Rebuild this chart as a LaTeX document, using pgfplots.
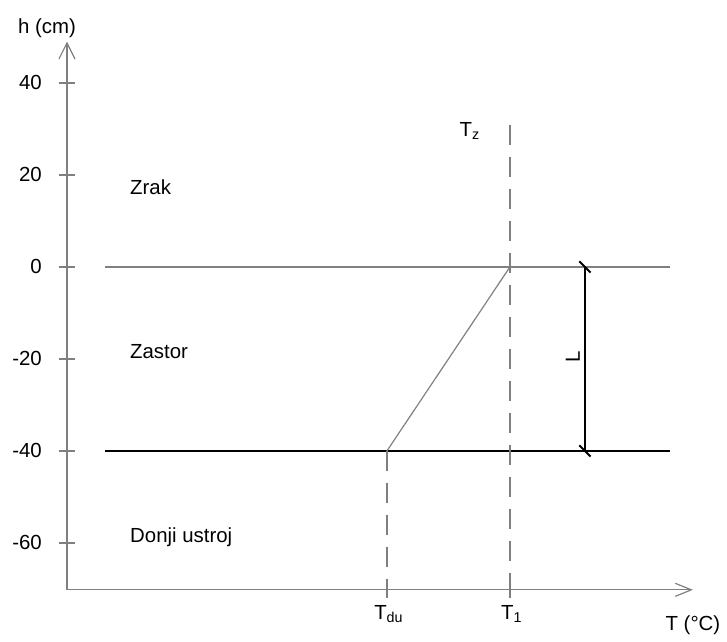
\documentclass[border=0pt]{standalone}
\usepackage{pgfplots}
\pgfplotsset{compat=1.18}
\usepackage{fontspec}
\setmainfont{Liberation Sans}
\usetikzlibrary{arrows.meta}

\definecolor{lgray}{HTML}{808080}

\begin{document}
\fontsize{10.2}{12}\selectfont
\begin{tikzpicture}
\begin{axis}[
  x=0.5pt, y=2.3pt,
  xmin=0, xmax=626,
  ymin=-70.2, ymax=49,
  axis lines=left,
  axis line style={lgray, line width=0.6pt},
  x axis line style={-{Straight Barb[length=8pt,width=6.5pt,line width=0.6pt]}},
  y axis line style={-{Straight Barb[length=8pt,width=8pt,line width=0.6pt]}},
  clip=false,
  tick align=center,
  major tick length=8pt,
  tick style={lgray, line width=0.6pt},
  ytick={-60,-40,-20,0,20,40},
  yticklabels={-60,-40,-20,0,20,40},
  xtick={320,443},
  xticklabels={T\textsubscript{du},T\textsubscript{1}},
  yticklabel style={anchor=east, xshift=-5pt, font=\fontsize{10.2}{12}\selectfont},
  xticklabel style={anchor=north, xshift=1pt, yshift=0pt, font=\fontsize{10.2}{12}\selectfont},
]
% layer boundaries
\addplot[lgray, line width=0.6pt] coordinates {(38,0) (603,0)};
\addplot[black, line width=1pt] coordinates {(38,-40) (603,-40)};
% temperature profile through the cover layer
\addplot[lgray, line width=0.6pt] coordinates {(320,-40) (443,0)};
% reference temperatures
\addplot[lgray, line width=0.6pt, dash pattern=on 10pt off 6pt] coordinates {(443,30.9) (443,-70.2)};
\addplot[lgray, line width=0.6pt, dash pattern=on 10pt off 6pt] coordinates {(320,-40) (320,-70.2)};
% layer thickness L
\addplot[black, line width=1pt, mark=|, mark size=4pt,
  mark options={rotate=45, line width=1pt}] coordinates {(518,0) (518,-40)};

\node[rotate=90] at (axis cs:506,-19.6) {L};
\node[anchor=west] at (axis cs:56,17.4) {Zrak};
\node[anchor=west] at (axis cs:56,-18.5) {Zastor};
\node[anchor=west] at (axis cs:56,-58.7) {Donji ustroj};
\node at (axis cs:403,29.6) {T\textsubscript{z}};
\node at (axis cs:-20,52) {h (cm)};
\node at (axis cs:626,-77.8) {T (°C)};
\path (axis cs:-67,58.04) rectangle (axis cs:660,-79.35);
\end{axis}
\end{tikzpicture}
\end{document}
